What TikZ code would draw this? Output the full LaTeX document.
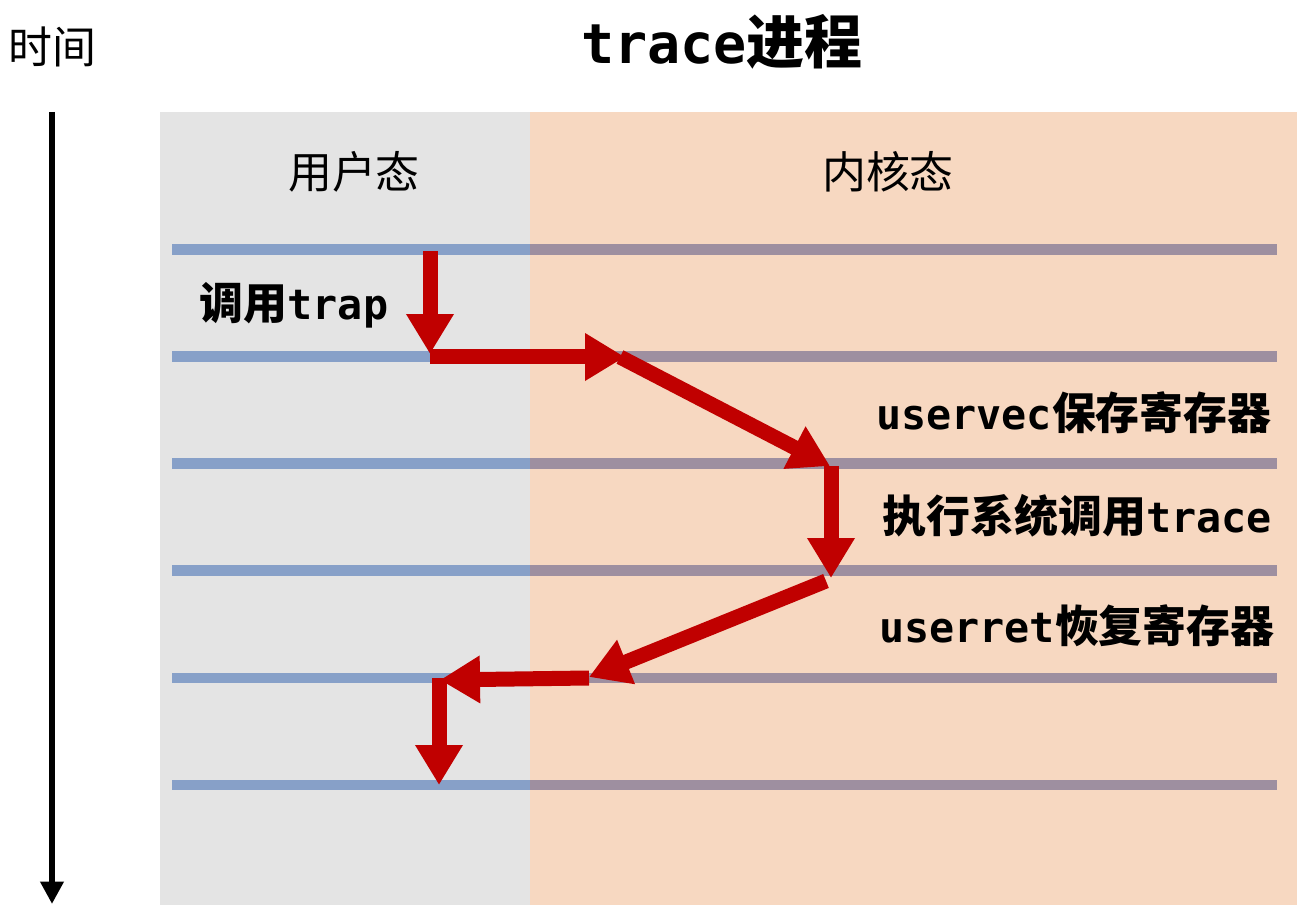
\documentclass[tikz,border=0pt]{standalone}
\usepackage{fontspec}
\setmainfont{Noto Sans CJK SC}
\newfontfamily\mono{DejaVu Sans Mono}[Scale=0.95]
\usetikzlibrary{arrows.meta}
\definecolor{userbg}{HTML}{E4E4E4}
\definecolor{kernbg}{HTML}{F7D8C1}
\definecolor{lineblue}{HTML}{87A0C8}
\definecolor{linemix}{HTML}{9E8FA0}
\definecolor{flowred}{HTML}{C00000}
\begin{document}
\begin{tikzpicture}[x=0.02cm,y=-0.02cm,
		flow/.style={draw=flowred,line width=0.3cm,-{Triangle[width=0.9cm,length=0.8cm]}},
		lbl/.style={font=\fontsize{25}{25}\selectfont\bfseries,inner sep=0pt}]
	\useasboundingbox (0,0) rectangle (1309,918);
	% background
	\fill[userbg] (160,112) rectangle (530,905);
	\fill[kernbg] (530,112) rectangle (1297,905);
	\foreach \y in {250,357,464,571,678,785}{
		\draw[lineblue,line width=0.22cm] (172,\y) -- (530,\y);
		\draw[linemix,line width=0.22cm] (530,\y) -- (1277,\y);
	}
	% time axis
	\draw[line width=0.13cm,-{Triangle[width=0.45cm,length=0.45cm]}] (52,112) -- (52,904);
	\node (time) at (52,47) {\fontsize{25}{25}\selectfont 时间};
	\node (title) at (722,42) {\fontsize{33}{33}\selectfont\bfseries{\mono trace}进程};
	\node (user) at (354,172) {\fontsize{25}{25}\selectfont 用户态};
	\node (kernel) at (888,172) {\fontsize{25}{25}\selectfont 内核态};
	\node[lbl] (ltrap) at (294,305) {调用{\mono trap}};
	\node[lbl,anchor=east] (lvec) at (1272,413) {{\mono uservec}保存寄存器};
	\node[lbl,anchor=east] (lexec) at (1272,516) {执行系统调用{\mono trace}};
	\node[lbl,anchor=east] (lret) at (1275,626) {{\mono userret}恢复寄存器};
	% control flow
	\coordinate (a0) at (430,251);
	\coordinate (a1) at (430,354);
	\coordinate (b0) at (430,357);
	\coordinate (b1) at (625,357);
	\coordinate (c0) at (620,357);
	\coordinate (c1) at (830,466);
	\coordinate (d0) at (831,466);
	\coordinate (d1) at (831,578);
	\coordinate (e0) at (826,581);
	\coordinate (e1) at (589,677);
	\coordinate (f0) at (589,678);
	\coordinate (f1) at (440,680);
	\coordinate (g0) at (439,678);
	\coordinate (g1) at (439,785);
	\draw[flow] (a0) -- (a1);
	\draw[flow] (b0) -- (b1);
	\draw[flow] (c0) -- (c1);
	\draw[flow] (d0) -- (d1);
	\draw[flow] (e0) -- (e1);
	\draw[flow] (f0) -- (f1);
	\draw[flow] (g0) -- (g1);
\end{tikzpicture}
\end{document}
